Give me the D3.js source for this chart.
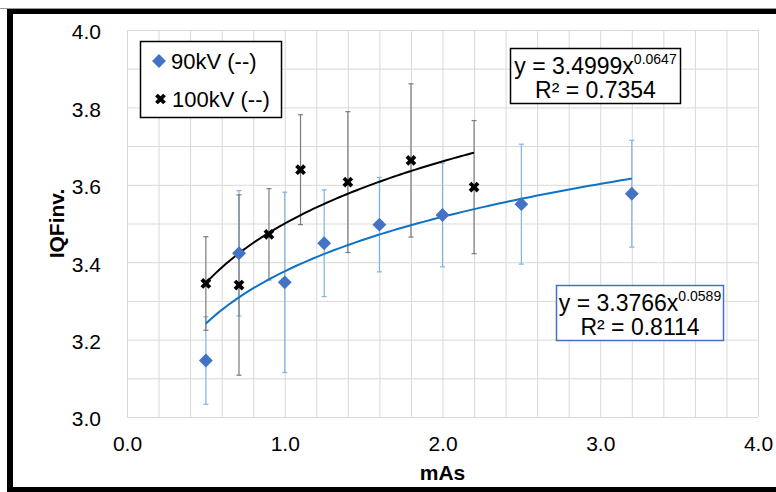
<!DOCTYPE html>
<html>
<head>
<meta charset="utf-8">
<script src="https://cdn.jsdelivr.net/npm/d3@7"></script>
<style>
  body { margin: 0; background: #fff; }
  svg { display: block; }
  text { font-family: "Liberation Sans", Arial, sans-serif; fill: #000; }
</style>
</head>
<body>
<svg></svg>
<script>
'use strict';

// values
var mas90 = [0.5, 0.71, 1.0, 1.25, 1.6, 2.0, 2.5, 3.2];
var iqf90 = [3.146, 3.423, 3.348, 3.449, 3.497, 3.522, 3.550, 3.577];
var err90 = [0.113, 0.162, 0.233, 0.138, 0.122, 0.134, 0.155, 0.138];

var mas100 = [0.5, 0.71, 0.9, 1.1, 1.4, 1.8, 2.2];
var iqf100 = [3.345, 3.341, 3.472, 3.639, 3.607, 3.663, 3.594];
var err100 = [0.121, 0.233, 0.118, 0.142, 0.182, 0.198, 0.172];

// power trendlines y = a * x^b, as printed on the chart
var fit90 = { a: 3.3766, b: 0.0589, r2: '0.8114', from: 0.5, to: 3.2 };
var fit100 = { a: 3.4999, b: 0.0647, r2: '0.7354', from: 0.5, to: 2.2 };

var xTicks = [0, 1, 2, 3, 4];
var yTicks = [3.0, 3.2, 3.4, 3.6, 3.8, 4.0];
var legendLabels = ['90kV (--)', '100kV (--)'];

var canvasWidth = 776;
var canvasHeight = 492;
var margin = { top: 30, right: 18, bottom: 75, left: 127 };
var width = canvasWidth - margin.left - margin.right;
var height = canvasHeight - margin.top - margin.bottom;

var blue = '#4472c4';
var blueLine = '#0f73c4';
var blueBar = '#7fb3e2';
var grayBar = '#7a7a7a';
var grid = '#d9d9d9';

var svg = d3.select('svg')
  .attr('width', canvasWidth)
  .attr('height', canvasHeight);

// outer frame
svg.append('line').attr('x1', 0).attr('x2', canvasWidth).attr('y1', 8.5).attr('y2', 8.5)
  .attr('stroke', '#999').attr('stroke-width', 1);
svg.append('rect').attr('x', 10.5).attr('y', 11.5)
  .attr('width', canvasWidth + 20).attr('height', 478)
  .attr('fill', 'none').attr('stroke', '#000').attr('stroke-width', 5);
svg.append('rect').attr('x', 7).attr('y', 9).attr('width', 4).attr('height', 483).attr('fill', '#000');

var g = svg.append('g')
  .attr('transform', 'translate(' + margin.left + ',' + margin.top + ')');

var xScale = d3.scaleLinear().domain([0, 4]).range([0, width]);
var yScale = d3.scaleLinear().domain([3, 4]).range([height, 0]);

// gridlines
g.append('g')
  .attr('transform', 'translate(0,' + height + ')')
  .call(d3.axisBottom(xScale).tickValues(d3.range(0, 4.01, 0.2)).tickSize(-height).tickFormat(''))
  .call(function(a) {
    a.select('.domain').remove();
    a.selectAll('line').attr('stroke', grid);
  });
g.append('g')
  .call(d3.axisLeft(yScale).tickValues(d3.range(3, 4.001, 0.1)).tickSize(-width).tickFormat(''))
  .call(function(a) {
    a.select('.domain').remove();
    a.selectAll('line').attr('stroke', grid);
  });

// tick labels
g.append('g')
  .attr('transform', 'translate(0,' + height + ')')
  .call(d3.axisBottom(xScale).tickValues(xTicks).tickSize(0).tickPadding(19).tickFormat(d3.format('.1f')))
  .call(function(a) {
    a.select('.domain').remove();
    a.selectAll('text').style('font-size', '21px').attr('fill', '#000');
  });
g.append('g')
  .call(d3.axisLeft(yScale).tickValues(yTicks).tickSize(0).tickPadding(26).tickFormat(d3.format('.1f')))
  .call(function(a) {
    a.select('.domain').remove();
    a.selectAll('text').style('font-size', '21px').attr('dy', '0.42em').attr('fill', '#000');
  });

// axis titles
svg.append('text')
  .attr('x', margin.left + width / 2)
  .attr('y', 480)
  .attr('text-anchor', 'middle')
  .style('font-size', '21px')
  .style('font-weight', 'bold')
  .text('mAs');
svg.append('text')
  .attr('transform', 'translate(64,' + (margin.top + height / 2) + ') rotate(-90)')
  .attr('text-anchor', 'middle')
  .style('font-size', '21px')
  .style('font-weight', 'bold')
  .text('IQFinv.');

function toPoints(xs, ys, es) {
  return xs.map(function(x, i) { return { x: x, y: ys[i], e: es[i] }; });
}
var pts90 = toPoints(mas90, iqf90, err90);
var pts100 = toPoints(mas100, iqf100, err100);

function errorBars(data, colour) {
  var bars = g.append('g').selectAll('g').data(data).enter().append('g')
    .attr('stroke', colour).attr('stroke-width', 1.2);
  bars.append('line')
    .attr('x1', function(d) { return xScale(d.x); })
    .attr('x2', function(d) { return xScale(d.x); })
    .attr('y1', function(d) { return yScale(d.y - d.e); })
    .attr('y2', function(d) { return yScale(d.y + d.e); });
  [-1, 1].forEach(function(s) {
    bars.append('line')
      .attr('x1', function(d) { return xScale(d.x) - 2.5; })
      .attr('x2', function(d) { return xScale(d.x) + 2.5; })
      .attr('y1', function(d) { return yScale(d.y + s * d.e); })
      .attr('y2', function(d) { return yScale(d.y + s * d.e); });
  });
}
errorBars(pts90, blueBar);
errorBars(pts100, grayBar);

// trendlines
function trend(fit, colour) {
  var xs = d3.range(fit.from, fit.to + 1e-9, (fit.to - fit.from) / 80);
  var line = d3.line()
    .x(function(x) { return xScale(x); })
    .y(function(x) { return yScale(fit.a * Math.pow(x, fit.b)); });
  g.append('path').datum(xs)
    .attr('d', line)
    .attr('fill', 'none')
    .attr('stroke', colour)
    .attr('stroke-width', 2);
}
trend(fit90, blueLine);
trend(fit100, '#000');

// markers
var diamond = d3.symbol().type(d3.symbolSquare).size(96);
var cross = d3.symbol().type(d3.symbolCross).size(72);

g.append('g').selectAll('path').data(pts90).enter().append('path')
  .attr('d', diamond)
  .attr('transform', function(d) { return 'translate(' + xScale(d.x) + ',' + yScale(d.y) + ') rotate(45)'; })
  .attr('fill', blue);
g.append('g').selectAll('path').data(pts100).enter().append('path')
  .attr('d', cross)
  .attr('transform', function(d) { return 'translate(' + xScale(d.x) + ',' + yScale(d.y) + ') rotate(45)'; })
  .attr('fill', '#000');

// legend
var legend = svg.append('g');
legend.append('rect')
  .attr('x', 140.5).attr('y', 41.5).attr('width', 141).attr('height', 76)
  .attr('fill', '#fff').attr('stroke', '#000').attr('stroke-width', 1.5);
legend.append('path').attr('d', diamond)
  .attr('transform', 'translate(159,61) rotate(45)').attr('fill', blue);
legend.append('path').attr('d', cross)
  .attr('transform', 'translate(160.5,99) rotate(45)').attr('fill', '#000');
legend.selectAll('text.lab').data(legendLabels).enter().append('text')
  .attr('class', 'lab')
  .attr('x', function(d, i) { return i === 0 ? 171 : 172; })
  .attr('y', function(d, i) { return i === 0 ? 69 : 107; })
  .style('font-size', '22px')
  .text(function(d) { return d; });

// equation boxes
function eqBox(fit, x, y, w, h, colour) {
  var box = svg.append('g');
  box.append('rect')
    .attr('x', x).attr('y', y).attr('width', w).attr('height', h)
    .attr('fill', '#fff').attr('stroke', colour).attr('stroke-width', 1.5);
  var t = box.append('text')
    .attr('x', x + w / 2).attr('y', y + 25.5)
    .attr('text-anchor', 'middle')
    .style('font-size', '23px');
  t.append('tspan').text('y = ' + fit.a.toFixed(4) + 'x');
  t.append('tspan').attr('dy', -10).style('font-size', '14px').text(fit.b.toFixed(4));
  box.append('text')
    .attr('x', x + w / 2).attr('y', y + 49)
    .attr('text-anchor', 'middle')
    .style('font-size', '23px')
    .text('R\u00b2 = ' + fit.r2);
}
eqBox(fit100, 510.5, 48.5, 170, 55, '#000');
eqBox(fit90, 556.5, 285.5, 167, 55, blue);
</script>
</body>
</html>
